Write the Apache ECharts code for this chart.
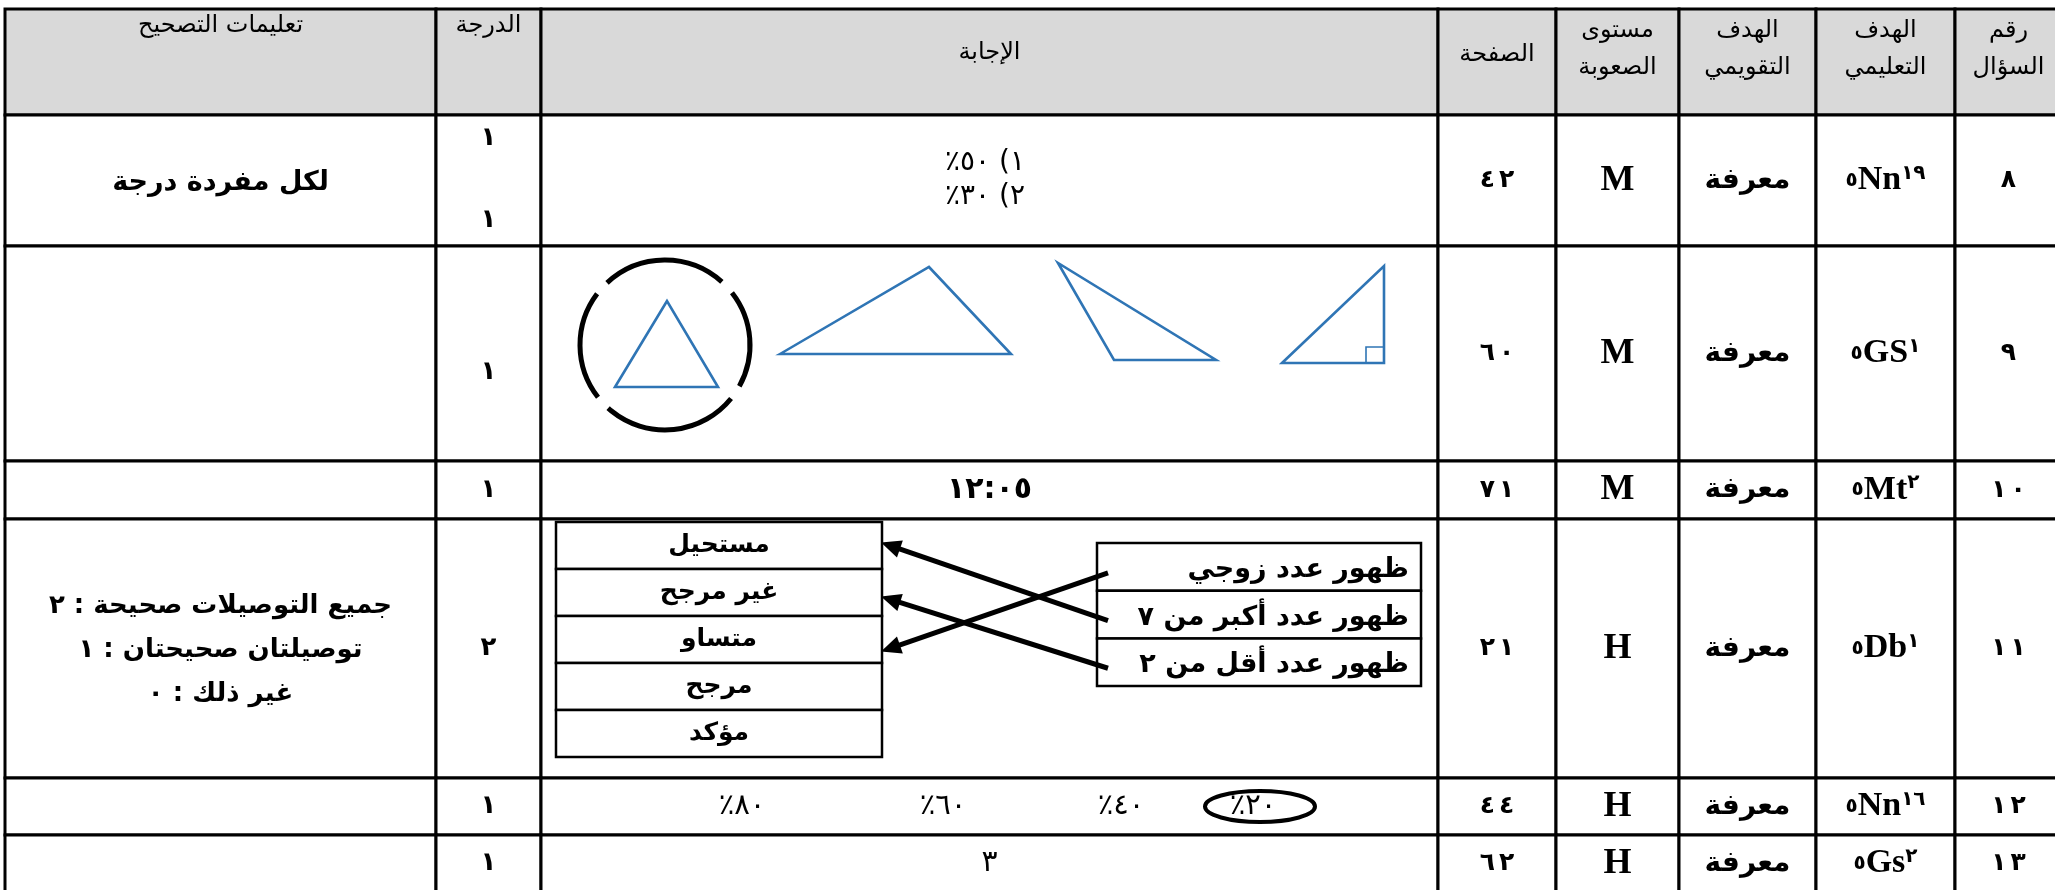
<!DOCTYPE html>
<html>
<head>
<meta charset="utf-8">
<script src="https://cdn.jsdelivr.net/npm/echarts@6/dist/echarts.min.js"></script>
<style>
  html, body { margin: 0; padding: 0; background: #fff; }
  #chart { width: 2055px; height: 890px; }
</style>
</head>
<body>
<div id="chart"></div>
<script>
// ---- table content ----
const headers = ['تعليمات التصحيح', 'الدرجة', 'الإجابة', 'الصفحة', 'مستوى\nالصعوبة', 'الهدف\nالتقويمي', 'الهدف\nالتعليمي', 'رقم\nالسؤال']
const questionNo = ['٨', '٩', '١٠', '١١', '١٢', '١٣']
const learningGoal = [['٥', 'Nn', '١٩'], ['٥', 'GS', '١'], ['٥', 'Mt', '٢'], ['٥', 'Db', '١'], ['٥', 'Nn', '١٦'], ['٥', 'Gs', '٢']]
const evalGoal = ['معرفة', 'معرفة', 'معرفة', 'معرفة', 'معرفة', 'معرفة']
const difficulty = ['M', 'M', 'M', 'H', 'H', 'H']
const pages = ['٤٢', '٦٠', '٧١', '٢١', '٤٤', '٦٢']
const grades = [['١', '١'], ['١'], ['١'], ['٢'], ['١'], ['١']]
const instructions = ['لكل مفردة درجة', '', '', 'جميع التوصيلات صحيحة : ٢\nتوصيلتان صحيحتان : ١\nغير ذلك : ٠', '', '']
const answer8 = [['١) ٥٠', '٪'], ['٢) ٣٠', '٪']]
const answer10 = '١٢:٠٥'
const choices = ['مستحيل', 'غير مرجح', 'متساو', 'مرجح', 'مؤكد']
const events = ['ظهور عدد زوجي', 'ظهور عدد أكبر من ٧', 'ظهور عدد أقل من ٢']
const matches = [2, 0, 1]           // event -> choice
const percentOptions = ['٨٠', '٦٠', '٤٠', '٢٠']
const pickedPercent = 3
const answer13 = '٣'

// ---- layout (page pixels) ----
const W = 2055, H = 890
const colEdges = [5, 436, 541, 1438, 1556, 1679, 1816, 1955, 2062]
const rowEdges = [9, 115, 246, 461, 519, 778, 835, 892]
const headerY = [26, 26, 53, 55, 49, 49, 49, 49]
const choiceBox = { x0: 556, x1: 882, y0: 522, step: 47 }
const eventBox = { x0: 1097, x1: 1421, y0: 543, step: 47.7 }
const percentX = [742, 943, 1121, 1253]
const AR = '"DejaVu Sans", sans-serif'
const SERIF = '"Liberation Serif", "DejaVu Sans", serif'
const BLUE = '#2f75b5'

const colMid = c => (colEdges[c] + colEdges[c + 1]) / 2
const rowMid = r => (rowEdges[r] + rowEdges[r + 1]) / 2

// cells
const cells = []
for (let r = 0; r < rowEdges.length - 1; r++)
  for (let c = 0; c < colEdges.length - 1; c++) cells.push([c, r])

// text marks (each rich token is shaped on its own, so the visual order is fixed)
const texts = []
const addText = (x, y, text, o) => texts.push(Object.assign({ x, y, text }, o))
const numRich = (size, weight) => ({ p: { fontSize: size, fontWeight: weight || 'normal', fontFamily: AR } })
// digits set a little apart, like the document font
const spaced = (s, size) => ({
  text: s.split('').map(ch => '{d|' + ch + '}').join(''),
  rich: { d: { fontSize: size, fontWeight: 'bold', fontFamily: AR, padding: [0, 2] } }
})

headers.forEach((h, c) => addText(colMid(c), headerY[c], h, { size: 24, weight: 'normal', lh: 37 }))
questionNo.forEach((v, i) => { const s = spaced(v, 25); addText(colMid(7), rowMid(i + 1), s.text, { rich: s.rich }) })
learningGoal.forEach((v, i) => addText(colMid(6), rowMid(i + 1), '{a|' + v[0] + '}{l|' + v[1] + '}{b|' + v[2] + '}', {
  rich: {
    a: { fontSize: 20, fontWeight: 'bold', fontFamily: AR, verticalAlign: 'middle', lineHeight: 34 },
    l: { fontSize: 34, fontWeight: 'bold', fontFamily: SERIF, lineHeight: 34 },
    b: { fontSize: 20, fontWeight: 'bold', fontFamily: AR, verticalAlign: 'top', lineHeight: 34 }
  }
}))
evalGoal.forEach((v, i) => addText(colMid(5), rowMid(i + 1), v, { size: 28, weight: 'bold' }))
difficulty.forEach((v, i) => addText(colMid(4), rowMid(i + 1), v, { size: 36, weight: 'bold', family: SERIF }))
pages.forEach((v, i) => { const s = spaced(v, 25); addText(colMid(3), rowMid(i + 1), s.text, { rich: s.rich }) })
grades.forEach((g, i) => {
  if (g.length === 2) {
    addText(colMid(1), 138, g[0], { size: 26, weight: 'bold' })
    addText(colMid(1), 220, g[1], { size: 26, weight: 'bold' })
  } else {
    addText(colMid(1), i === 1 ? 372 : rowMid(i + 1), g[0], { size: 26, weight: 'bold' })
  }
})
instructions.forEach((v, i) => { if (v) addText(colMid(0), rowMid(i + 1) + 2, v, { size: i === 0 ? 27 : 26, weight: 'bold', lh: 44 }) })
answer8.forEach((a, j) => addText(985, 163 + 34 * j, '{p|' + a[1] + '}{p|' + a[0] + '}', { rich: numRich(28) }))
addText(colMid(2), rowMid(3), answer10, { size: 30, weight: 'bold' })
choices.forEach((v, j) => addText((choiceBox.x0 + choiceBox.x1) / 2, choiceBox.y0 + choiceBox.step * (j + 0.5), v, { size: 25, weight: 'bold' }))
events.forEach((v, j) => addText(eventBox.x1 - 12, eventBox.y0 + eventBox.step * (j + 0.5) + 3, v, { size: 27, weight: 'bold', align: 'right' }))
percentOptions.forEach((v, j) => addText(percentX[j], rowMid(5), '{p|٪}{p|' + v + '}', { rich: numRich(29) }))
addText(colMid(2), rowMid(6), answer13, { size: 30 })

// drawings: triangles, circle, arrows, boxes
const shapes = []
const tri = [
  [[667, 301], [615, 387], [718, 387]],
  [[780, 354], [929, 267], [1011, 354]],
  [[1058, 263], [1114, 360], [1216, 360]],
  [[1282, 363], [1384, 266], [1384, 363]]
]
tri.forEach(p => shapes.push({ kind: 'poly', pts: p, stroke: BLUE, lw: 2.6 }))
shapes.push({ kind: 'line', pts: [[1366, 363], [1366, 347], [1384, 347]], stroke: BLUE, lw: 1.6 })
// circle around the picked triangle, broken where the picture edge cut it
const ring = { cx: 665, cy: 345, r: 85 }
;[[39, 132], [142, 217], [227, 312], [322, 389]].forEach(a =>
  shapes.push({ kind: 'arc', c: [ring.cx, ring.cy], r: ring.r, a0: a[0], a1: a[1], stroke: '#000', lw: 5 }))
for (let j = 0; j < choices.length; j++) {
  shapes.push({ kind: 'rect', p: [choiceBox.x0, choiceBox.y0 + j * choiceBox.step], q: [choiceBox.x1, choiceBox.y0 + (j + 1) * choiceBox.step], stroke: '#000', lw: 2.5 })
}
for (let j = 0; j < events.length; j++) {
  shapes.push({ kind: 'rect', p: [eventBox.x0, eventBox.y0 + j * eventBox.step], q: [eventBox.x1, eventBox.y0 + (j + 1) * eventBox.step], stroke: '#000', lw: 2.5 })
}
// arrows from each event to its choice
const tipDy = [-3, 4, 12]
matches.forEach((to, from) => {
  const s = [eventBox.x0 + 11, eventBox.y0 + eventBox.step * (from + 0.5) + 6]
  const t = [choiceBox.x1 - 1, choiceBox.y0 + choiceBox.step * (to + 0.5) + tipDy[to]]
  shapes.push({ kind: 'arrow', pts: [s, t], stroke: '#000', lw: 5 })
})
// ellipse round the picked percentage
shapes.push({ kind: 'ellipse', c: [percentX[pickedPercent] + 7, rowMid(5)], rx: 55, ry: 15.5, stroke: '#000', lw: 4 })

const chart = echarts.init(document.getElementById('chart'))

const option = {
  animation: false,
  backgroundColor: '#fff',
  grid: { left: 0, right: 0, top: 0, bottom: 0 },
  xAxis: { type: 'value', min: 0, max: W, show: false },
  yAxis: { type: 'value', min: 0, max: H, inverse: true, show: false },
  series: [
    {
      type: 'custom',
      silent: true,
      clip: false,
      data: cells,
      renderItem: (params, api) => {
        const c = api.value(0), r = api.value(1)
        const p0 = api.coord([colEdges[c], rowEdges[r]])
        const p1 = api.coord([colEdges[c + 1], rowEdges[r + 1]])
        return {
          type: 'rect',
          shape: { x: p0[0], y: p0[1], width: p1[0] - p0[0], height: p1[1] - p0[1] },
          style: { fill: r === 0 ? '#d9d9d9' : '#fff', stroke: '#000', lineWidth: 3 }
        }
      }
    },
    {
      type: 'custom',
      silent: true,
      clip: false,
      z: 3,
      data: shapes.map((s, i) => [i]),
      renderItem: (params, api) => {
        const s = shapes[api.value(0)]
        const st = { stroke: s.stroke, lineWidth: s.lw, fill: null }
        if (s.kind === 'poly' || s.kind === 'line') {
          return { type: s.kind === 'poly' ? 'polygon' : 'polyline', shape: { points: s.pts.map(p => api.coord(p)) }, style: st }
        }
        if (s.kind === 'rect') {
          const a = api.coord(s.p), b = api.coord(s.q)
          return { type: 'rect', shape: { x: a[0], y: a[1], width: b[0] - a[0], height: b[1] - a[1] }, style: { stroke: s.stroke, lineWidth: s.lw, fill: '#fff' } }
        }
        if (s.kind === 'arc') {
          const c = api.coord(s.c)
          return { type: 'arc', shape: { cx: c[0], cy: c[1], r: s.r, startAngle: s.a0 * Math.PI / 180, endAngle: s.a1 * Math.PI / 180, clockwise: true }, style: st }
        }
        if (s.kind === 'ellipse') {
          const c = api.coord(s.c)
          return { type: 'ellipse', shape: { cx: c[0], cy: c[1], rx: s.rx, ry: s.ry }, style: st }
        }
        if (s.kind === 'arrow') {
          const a = api.coord(s.pts[0]), t = api.coord(s.pts[1])
          const dx = t[0] - a[0], dy = t[1] - a[1], len = Math.hypot(dx, dy)
          const ux = dx / len, uy = dy / len, L = 20, w = 9
          const bx = t[0] - ux * L, by = t[1] - uy * L
          return {
            type: 'group',
            children: [
              { type: 'line', shape: { x1: a[0], y1: a[1], x2: bx + ux * 2, y2: by + uy * 2 }, style: { stroke: s.stroke, lineWidth: s.lw } },
              { type: 'polygon', shape: { points: [t, [bx - uy * w, by + ux * w], [bx + uy * w, by - ux * w]] }, style: { fill: s.stroke } }
            ]
          }
        }
      }
    },
    {
      type: 'custom',
      silent: true,
      clip: false,
      z: 4,
      data: texts.map((t, i) => [t.x, t.y, i]),
      renderItem: (params, api) => {
        const t = texts[api.value(2)]
        const p = api.coord([api.value(0), api.value(1)])
        const style = {
          text: t.text,
          x: p[0],
          y: p[1],
          fill: '#000',
          align: t.align || 'center',
          verticalAlign: 'middle'
        }
        if (t.rich) {
          style.rich = t.rich
        } else {
          style.fontSize = t.size
          style.fontWeight = t.weight || 'normal'
          style.fontFamily = t.family || AR
          if (t.lh) style.lineHeight = t.lh
        }
        return { type: 'text', style }
      }
    }
  ]
}

chart.setOption(option)
</script>
</body>
</html>
